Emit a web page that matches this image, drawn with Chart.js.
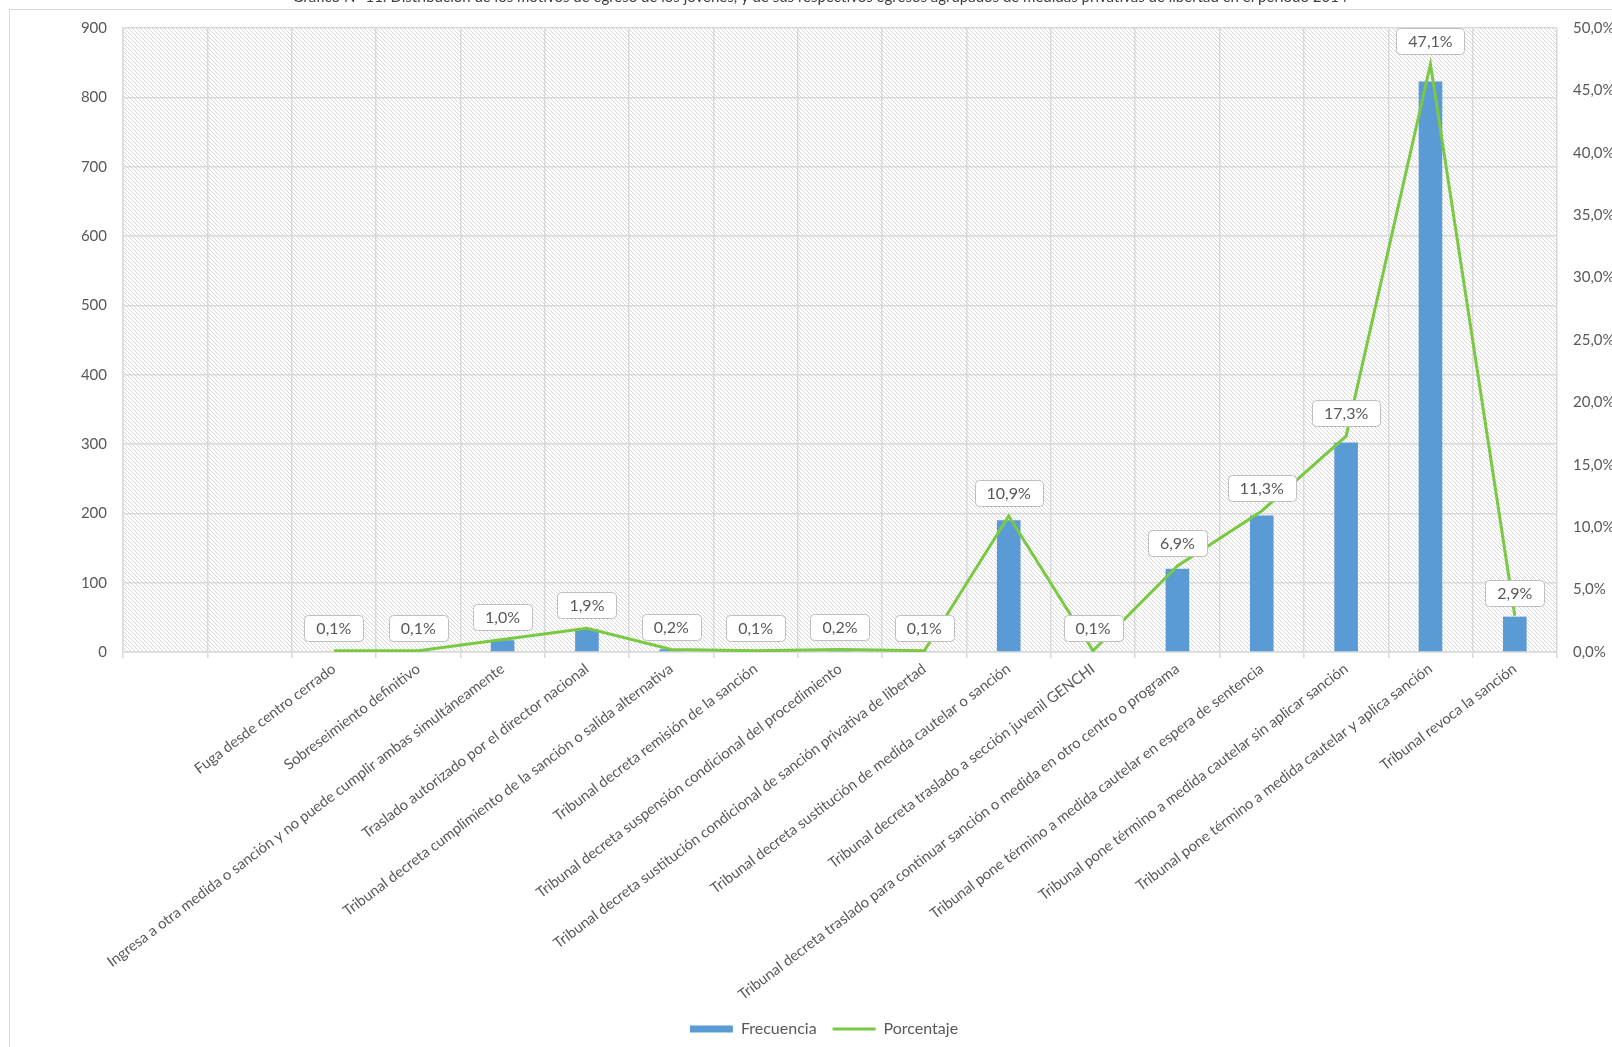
<!DOCTYPE html>
<html>
<head>
<meta charset="utf-8">
<script src="https://cdn.jsdelivr.net/npm/chart.js@4.4.1/dist/chart.umd.min.js"></script>
<style>
  html, body { margin: 0; padding: 0; background: #fff; }
  #wrap { width: 1612px; height: 1047px; position: relative; }
</style>
</head>
<body>
<div id="wrap"><canvas id="chart"></canvas></div>
<script>
// categorias (las dos primeras filas vienen vacias en la planilla)
const categorias = [
  '', '',
  'Fuga desde centro cerrado',
  'Sobreseimiento definitivo',
  'Ingresa a otra medida o sanción y no puede cumplir ambas simultáneamente',
  'Traslado autorizado por el director nacional',
  'Tribunal decreta cumplimiento de la sanción o salida alternativa',
  'Tribunal decreta remisión de la sanción',
  'Tribunal decreta suspensión condicional del procedimiento',
  'Tribunal decreta sustitución condicional de sanción privativa de libertad',
  'Tribunal decreta sustitución de medida cautelar o sanción',
  'Tribunal decreta traslado a sección juvenil GENCHI',
  'Tribunal decreta traslado para continuar sanción o medida en otro centro o programa',
  'Tribunal pone término a medida cautelar en espera de sentencia',
  'Tribunal pone término a medida cautelar sin aplicar sanción',
  'Tribunal pone término a medida cautelar y aplica sanción',
  'Tribunal revoca la sanción'
];
const frecuencia = [null, null, 1, 2, 17, 33, 4, 1, 3, 1, 190, 1, 120, 197, 302, 823, 51];
const porcentaje = [null, null, 0.1, 0.1, 1.0, 1.9, 0.2, 0.1, 0.2, 0.1, 10.9, 0.1, 6.9, 11.3, 17.3, 47.1, 2.9];

const titulo = 'Gráfico N° 11: Distribución de los motivos de egreso de los jóvenes, y de sus respectivos egresos agrupados de medidas privativas de libertad en el período 2014';

const FONT = 'Lato, "Open Sans", sans-serif';
const GRIS = '#595959';
const GRID = '#d9d9d9';

const fmtPct = v => v.toFixed(1).replace('.', ',') + '%';

function makeHatch(ctx) {
  const c = document.createElement('canvas');
  c.width = 4; c.height = 4;
  const g = c.getContext('2d');
  g.fillStyle = '#ffffff';
  g.fillRect(0, 0, 4, 4);
  g.fillStyle = '#d8d8d8';
  for (let i = 0; i < 4; i++) g.fillRect(i, i, 1, 1);
  return ctx.createPattern(c, 'repeat');
}

const fondo = {
  id: 'fondo',
  beforeDraw(chart) {
    const { ctx, chartArea: a } = chart;
    ctx.save();
    // marco del grafico
    ctx.strokeStyle = GRID;
    ctx.lineWidth = 1;
    ctx.beginPath();
    ctx.moveTo(9.5, chart.height);
    ctx.lineTo(9.5, 9.5);
    ctx.lineTo(chart.width, 9.5);
    ctx.stroke();
    // titulo (cortado por arriba en la imagen)
    ctx.fillStyle = '#404040';
    ctx.font = '15px ' + FONT;
    ctx.textAlign = 'center';
    ctx.textBaseline = 'alphabetic';
    ctx.fillText(titulo, 820, 2);
    // trama diagonal del area de trazado
    ctx.fillStyle = makeHatch(ctx);
    ctx.fillRect(a.left, a.top, a.right - a.left, a.bottom - a.top);
    ctx.restore();
  }
};

const etiquetas = {
  id: 'etiquetas',
  afterDatasetsDraw(chart) {
    const { ctx } = chart;
    const meta = chart.getDatasetMeta(1);
    ctx.save();
    ctx.font = '16px ' + FONT;
    ctx.textAlign = 'center';
    ctx.textBaseline = 'middle';
    meta.data.forEach((pt, i) => {
      if (porcentaje[i] == null) return;
      const txt = fmtPct(porcentaje[i]);
      const w = ctx.measureText(txt).width + 24;
      const h = 26;
      const cx = pt.x, cy = pt.y - 23;
      ctx.beginPath();
      ctx.roundRect(Math.round(cx - w / 2) + 0.5, Math.round(cy - h / 2) + 0.5, Math.round(w), h, 4);
      ctx.fillStyle = '#ffffff';
      ctx.fill();
      ctx.strokeStyle = '#bfbfbf';
      ctx.lineWidth = 1;
      ctx.stroke();
      ctx.fillStyle = GRIS;
      ctx.fillText(txt, cx, cy + 1);
    });
    ctx.restore();
  }
};

new Chart(document.getElementById('chart'), {
  type: 'bar',
  data: {
    labels: categorias,
    datasets: [{
      type: 'bar',
      label: 'Frecuencia',
      data: frecuencia,
      backgroundColor: '#5b9bd5',
      borderWidth: 0,
      barPercentage: 0.28,
      categoryPercentage: 1,
      pointStyle: 'rect',
      yAxisID: 'y',
      order: 2
    }, {
      type: 'line',
      label: 'Porcentaje',
      data: porcentaje,
      borderColor: '#7ac943',
      backgroundColor: '#7ac943',
      borderWidth: 3,
      pointRadius: 0,
      pointHoverRadius: 0,
      pointBorderWidth: 3,
      pointStyle: 'line',
      tension: 0,
      yAxisID: 'y1',
      order: 1
    }]
  },
  options: {
    responsive: true,
    maintainAspectRatio: false,
    animation: false,
    layout: { padding: { top: 28, left: 36, right: 0, bottom: 0 } },
    plugins: {
      tooltip: { enabled: false },
      legend: {
        position: 'bottom',
        labels: {
          usePointStyle: true,
          pointStyleWidth: 43,
          boxHeight: 7,
          padding: 16,
          color: GRIS,
          font: { family: FONT, size: 16 },
          sort: (a, b) => a.datasetIndex - b.datasetIndex
        }
      }
    },
    scales: {
      x: {
        offset: true,
        grid: { color: GRID, lineWidth: 1.5, offset: true, tickLength: 6 },
        border: { color: GRID, width: 1.5 },
        ticks: {
          autoSkip: false,
          maxRotation: 37,
          minRotation: 37,
          color: GRIS,
          padding: 2,
          font: { family: FONT, size: 14.8 }
        },
        afterFit(s) { s.height = 353; }
      },
      y: {
        position: 'left',
        min: 0, max: 900,
        ticks: { stepSize: 100, color: GRIS, padding: 16, font: { family: FONT, size: 15 } },
        grid: { color: GRID, lineWidth: 1.5, drawTicks: false },
        border: { color: GRID, width: 1.5 },
        afterFit(s) { s.width = 87; }
      },
      y1: {
        position: 'right',
        min: 0, max: 50,
        ticks: { stepSize: 5, color: GRIS, padding: 16, font: { family: FONT, size: 15 }, callback: v => fmtPct(v) },
        grid: { drawOnChartArea: false, drawTicks: false },
        border: { display: false },
        afterFit(s) { s.width = 55; }
      }
    }
  },
  plugins: [fondo, etiquetas]
});
</script>
</body>
</html>
